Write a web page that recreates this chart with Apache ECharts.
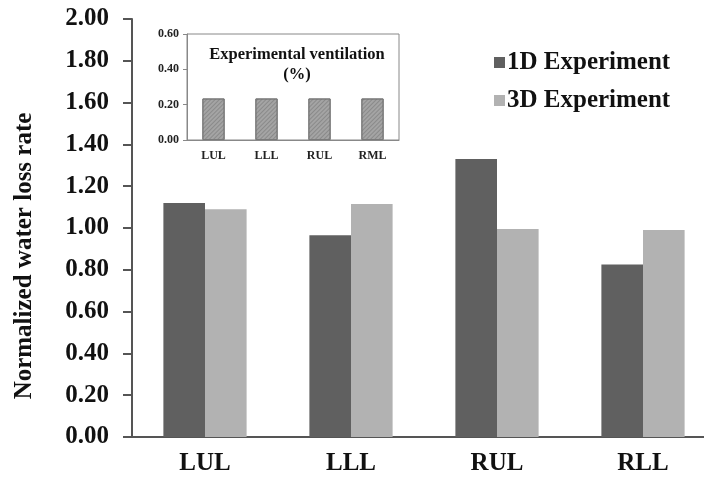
<!DOCTYPE html>
<html>
<head>
<meta charset="utf-8">
<script src="https://cdn.jsdelivr.net/npm/echarts@6/dist/echarts.min.js"></script>
<style>
html,body{margin:0;padding:0;background:#fff;}
#chart{width:704px;height:482px;}
</style>
</head>
<body>
<div id="chart"></div>
<script>
var categories = ['LUL', 'LLL', 'RUL', 'RLL'];
var exp1D = [1.12, 0.965, 1.33, 0.825];
var exp3D = [1.09, 1.115, 0.995, 0.99];
var yTicks = ['0.00','0.20','0.40','0.60','0.80','1.00','1.20','1.40','1.60','1.80','2.00'];

var insetCategories = ['LUL', 'LLL', 'RUL', 'RML'];
var ventilation = [0.235, 0.235, 0.235, 0.235];
var insetTicks = ['0.00','0.20','0.40','0.60'];

var yAxisTitle = 'Normalized water loss rate';
var insetTitle = 'Experimental ventilation\n(%)';

var FONT = '"Liberation Serif", "Times New Roman", serif';
var chart = echarts.init(document.getElementById('chart'), null, {renderer: 'canvas'});

var option = {
  animation: false,
  backgroundColor: '#ffffff',
  title: {
    text: insetTitle,
    left: 292,
    top: 40,
    textAlign: 'center',
    textStyle: {fontFamily: FONT, fontWeight: 'bold', fontSize: 16.5, lineHeight: 20, color: '#111'}
  },
  graphic: [{
    type: 'text',
    x: 25, y: 256,
    rotation: Math.PI / 2,
    style: {
      text: yAxisTitle,
      fontFamily: FONT, fontWeight: 'bold', fontSize: 25, fill: '#111',
      align: 'center', verticalAlign: 'middle'
    }
  }],
  legend: {
    orient: 'vertical',
    left: 489,
    top: 45,
    itemWidth: 11,
    itemHeight: 11,
    itemGap: 13,
    icon: 'rect',
    textStyle: {fontFamily: FONT, fontWeight: 'bold', fontSize: 25, color: '#111', padding: [0,0,0,-3]},
    data: ['1D Experiment', '3D Experiment']
  },
  grid: [
    {left: 132, top: 19, right: -12, bottom: 45, outerBoundsMode: 'none', containLabel: false},
    {left: 187, top: 34, right: 305, bottom: 342, outerBoundsMode: 'none', containLabel: false,
     show: true, borderColor: '#888', borderWidth: 1, backgroundColor: 'transparent', z: 5}
  ],
  xAxis: [
    {
      type: 'category', gridIndex: 0, data: categories,
      axisLine: {lineStyle: {color: '#555', width: 2}},
      axisTick: {show: false},
      axisLabel: {fontFamily: FONT, fontWeight: 'bold', fontSize: 25, color: '#111', margin: 14}
    },
    {
      type: 'category', gridIndex: 1, data: insetCategories,
      axisLine: {lineStyle: {color: '#888', width: 1}},
      axisTick: {show: false},
      axisLabel: {fontFamily: FONT, fontWeight: 'bold', fontSize: 12, color: '#222', margin: 10}
    }
  ],
  yAxis: [
    {
      type: 'value', gridIndex: 0, min: 0, max: 2, interval: 0.2,
      axisLine: {show: true, lineStyle: {color: '#555', width: 2}},
      axisTick: {show: true, inside: false, length: 9, lineStyle: {color: '#555', width: 2}},
      splitLine: {show: false},
      axisLabel: {
        fontFamily: FONT, fontWeight: 'bold', fontSize: 25, color: '#111', margin: 23,
        formatter: function (v) { return yTicks[Math.round(v / 0.2)]; }
      }
    },
    {
      type: 'value', gridIndex: 1, min: 0, max: 0.6, interval: 0.2,
      axisLine: {show: true, lineStyle: {color: '#888', width: 1}},
      axisTick: {show: true, length: 4, lineStyle: {color: '#888'}},
      splitLine: {show: false},
      axisLabel: {
        fontFamily: FONT, fontWeight: 'bold', fontSize: 12, color: '#222', margin: 8,
        formatter: function (v) { return insetTicks[Math.round(v / 0.2)]; }
      }
    }
  ],
  series: [
    {
      name: '1D Experiment', type: 'bar', xAxisIndex: 0, yAxisIndex: 0,
      data: exp1D, barGap: '0%', barCategoryGap: '43%',
      itemStyle: {color: '#606060'}
    },
    {
      name: '3D Experiment', type: 'bar', xAxisIndex: 0, yAxisIndex: 0,
      data: exp3D, barGap: '0%', barCategoryGap: '43%',
      itemStyle: {color: '#b2b2b2'}
    },
    {
      name: 'Ventilation', type: 'bar', xAxisIndex: 1, yAxisIndex: 1,
      data: ventilation, barCategoryGap: '58%', z: 6,
      itemStyle: {
        color: '#a4a4a4', borderColor: '#7a7a7a', borderWidth: 1,
        decal: {symbol: 'rect', dashArrayX: [1, 0], dashArrayY: [1, 2], rotation: -Math.PI / 4, color: 'rgba(90,90,90,0.35)'}
      }
    }
  ]
};
chart.setOption(option);
</script>
</body>
</html>
